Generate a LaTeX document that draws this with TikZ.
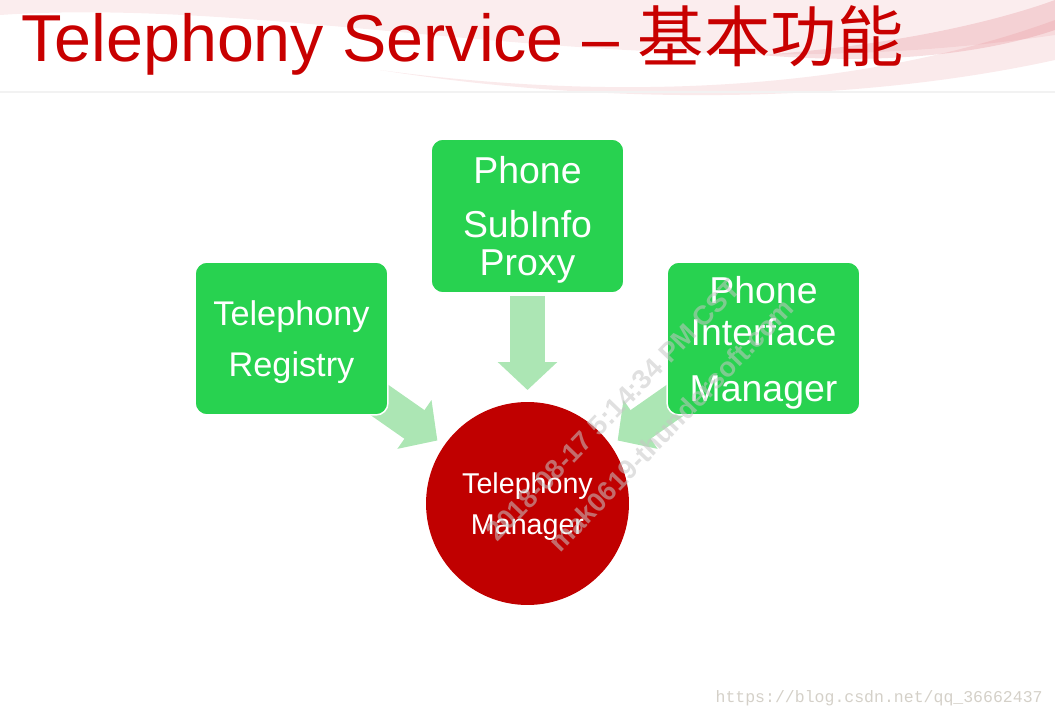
\documentclass[tikz,border=0pt]{standalone}
\usepackage{fontspec}
\setmainfont{Liberation Sans}
\setmonofont{Liberation Mono}
\newfontfamily\cjkfont{Noto Sans CJK SC}
\usetikzlibrary{arrows.meta}
\usetikzlibrary{backgrounds}
\definecolor{boxGreen}{RGB}{40,210,80}
\definecolor{hubRed}{RGB}{192,0,0}
\definecolor{feedGreen}{RGB}{172,230,180}
\definecolor{titleRed}{RGB}{200,0,0}
\definecolor{swooshPink}{RGB}{215,80,90}
\definecolor{urlGray}{RGB}{212,208,200}
\newcommand{\padtop}[1]{\rule{0pt}{#1}}

\begin{document}
\begin{tikzpicture}[
    x=0.02cm,
    y=-0.02cm,
    module/.style={
        rectangle,
        rounded corners=0.24cm,
        fill=boxGreen,
        draw=white,
        line width=0.03cm,
        minimum width=3.86cm,
        minimum height=3.06cm,
        text=white,
        align=center,
        inner sep=0pt
    },
    hub/.style={
        circle,
        fill=hubRed,
        minimum size=4.06cm,
        text=white,
        align=center,
        inner sep=0pt
    },
    feed/.style={
        feedGreen,
        line width=0.7cm,
        -{Triangle[width=1.16cm,length=0.56cm]}
    },
    watermark/.style={
        text=gray!45,
        opacity=0.55,
        font=\bfseries\fontsize{15.5}{18}\selectfont,
        rotate=46,
        inner sep=0pt
    }
]

\useasboundingbox (0,0) rectangle (1055,719);

%------------------------------------------------
% Title
%------------------------------------------------
\node[anchor=base west, inner sep=0pt, text=titleRed,
    font=\fontsize{37.8}{44}\selectfont] (title) at (21,62)
    {Telephony Service – {\cjkfont 基本功能}};

%------------------------------------------------
% Modules and the manager
%------------------------------------------------
\node[module, minimum height=3.08cm,
    font=\fontsize{21.3}{21.5}\selectfont] (proxy) at (527.5,216)
    {\padtop{19.5pt}Phone\\[9.1pt]SubInfo\\Proxy};

\node[module, font=\fontsize{19.5}{28.9}\selectfont] (registry) at (291.5,338.5)
    {\padtop{18.7pt}Telephony\\Registry};

\node[module, font=\fontsize{21.3}{23.8}\selectfont] (iface) at (763.5,338.5)
    {\padtop{20pt}Phone\\Interface\\[8pt]Manager};

\node[hub, font=\fontsize{16.3}{23.8}\selectfont] (manager) at (527.5,503.5)
    {\padtop{15.3pt}Telephony\\Manager};

%------------------------------------------------
% Header swoosh and block arrows (behind)
%------------------------------------------------
\begin{scope}[on background layer]
    \fill[swooshPink, opacity=0.10]
        (0,15) .. controls (300,-5) and (650,95) .. (1055,35)
        -- (1055,0) -- (0,0) -- cycle;
    \fill[swooshPink, opacity=0.12]
        (380,70) .. controls (600,100) and (850,95) .. (1055,20)
        -- (1055,60) .. controls (850,105) and (600,105) .. (380,70) -- cycle;
    \fill[swooshPink, opacity=0.18]
        (760,55) .. controls (900,45) and (1000,20) .. (1055,0)
        -- (1055,30) .. controls (980,55) and (880,65) .. (760,55) -- cycle;
    \draw[gray!10, line width=0.04cm] (0,92) -- (1055,92);

    \draw[feed, shorten <=1.6cm, shorten >=2.27cm]
        (proxy.center) -- (manager.center);
    \draw[feed, shorten >=2.2cm] (registry.center) -- (manager.center);
    \draw[feed, shorten >=2.2cm] (iface.center) -- (manager.center);
\end{scope}

%------------------------------------------------
% Watermark and source
%------------------------------------------------
\node[watermark] (stamp) at (613,410) {2018-08-17 5:14:34 PM CST};
\node[watermark] (stampsite) at (671,425) {mak0619-thundersoft.com};

\node[anchor=base east, inner sep=0pt, text=urlGray,
    font=\ttfamily\fontsize{9.4}{11}\selectfont] (source) at (1043,702)
    {https://blog.csdn.net/qq\_36662437};

\end{tikzpicture}
\end{document}
